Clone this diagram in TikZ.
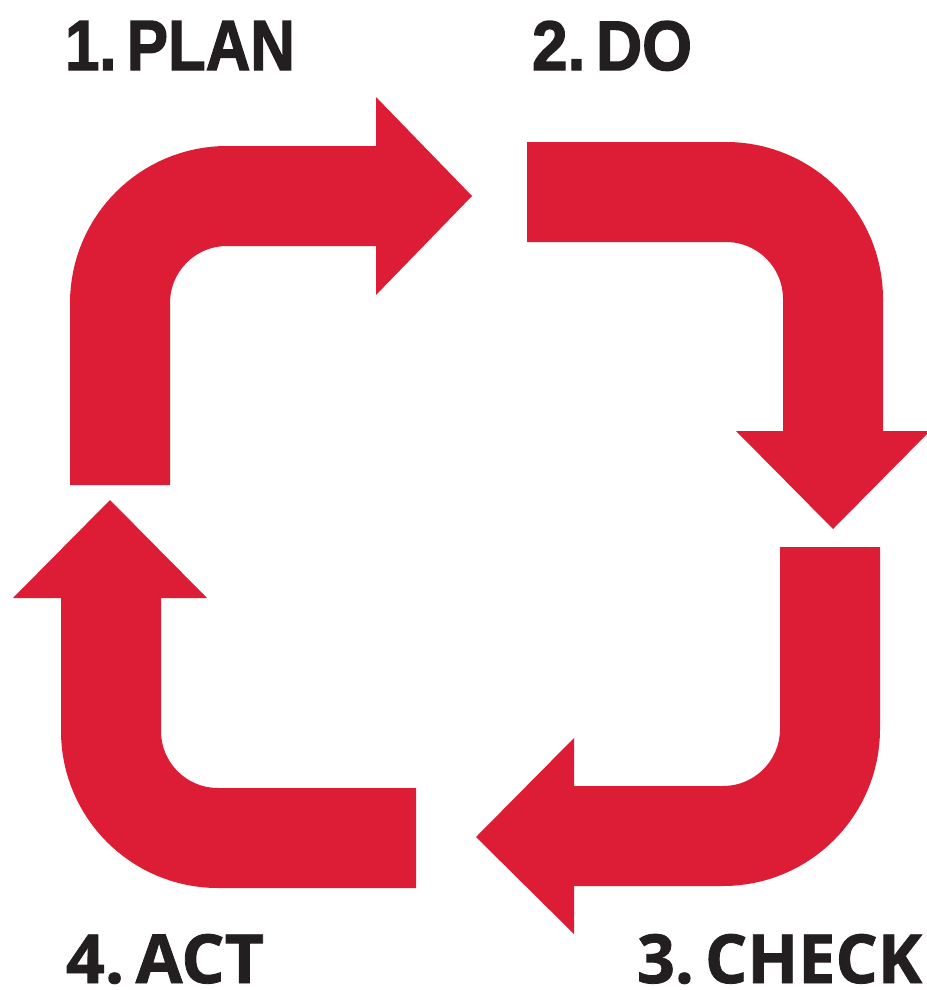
\documentclass[tikz,border=0pt]{standalone}
\usepackage{fontspec}
\setmainfont{Liberation Sans}
\newfontfamily\heavyfont{Liberation Sans}[BoldFeatures={FakeBold=2}]
\newfontfamily\humfont{Open Sans}[BoldFeatures={FakeBold=1.2}]
\definecolor{pdcared}{RGB}{221,28,53}
\definecolor{labelink}{RGB}{35,31,32}
\tikzset{
  band/.style={draw=pdcared,line width=100pt,rounded corners=107pt},
  headtip/.style={fill=pdcared,draw=none},
  toplabel/.style={anchor=north west,inner sep=0pt,outer sep=0pt,text=labelink,font=\heavyfont\bfseries},
  botlabel/.style={anchor=north west,inner sep=0pt,outer sep=0pt,text=labelink,font=\humfont\bfseries}
}
\begin{document}
\begin{tikzpicture}[x=1pt,y=-1pt]
\useasboundingbox (0,0) rectangle (926,990);
% 1. PLAN arrow
\draw[band] (120,485) -- (120,196) -- (376,196);
\fill[headtip] (376,97) -- (472,196) -- (376,295) -- cycle;
% 2. DO arrow
\draw[band] (527,192) -- (833,192) -- (833,431);
\fill[headtip] (736,431) -- (833,529) -- (930,431) -- cycle;
% 3. CHECK arrow
\draw[band] (830,547) -- (830,836) -- (574,836);
\fill[headtip] (574,738) -- (476,837) -- (574,934) -- cycle;
% 4. ACT arrow
\draw[band] (416,838) -- (111,838) -- (111,598);
\fill[headtip] (13,598) -- (110,500) -- (207,598) -- cycle;
% labels
\node[toplabel] (plan) at (65,21) {\resizebox{230pt}{49pt}{1.\,PLAN}};
\node[toplabel] (do) at (532,21) {\resizebox{160pt}{49pt}{2.\,DO}};
\node[botlabel] (act) at (66,934) {\resizebox{198pt}{49pt}{4.\,ACT}};
\node[botlabel] (check) at (637,934) {\resizebox{285pt}{49pt}{3.\,CHECK}};
\end{tikzpicture}
\end{document}
